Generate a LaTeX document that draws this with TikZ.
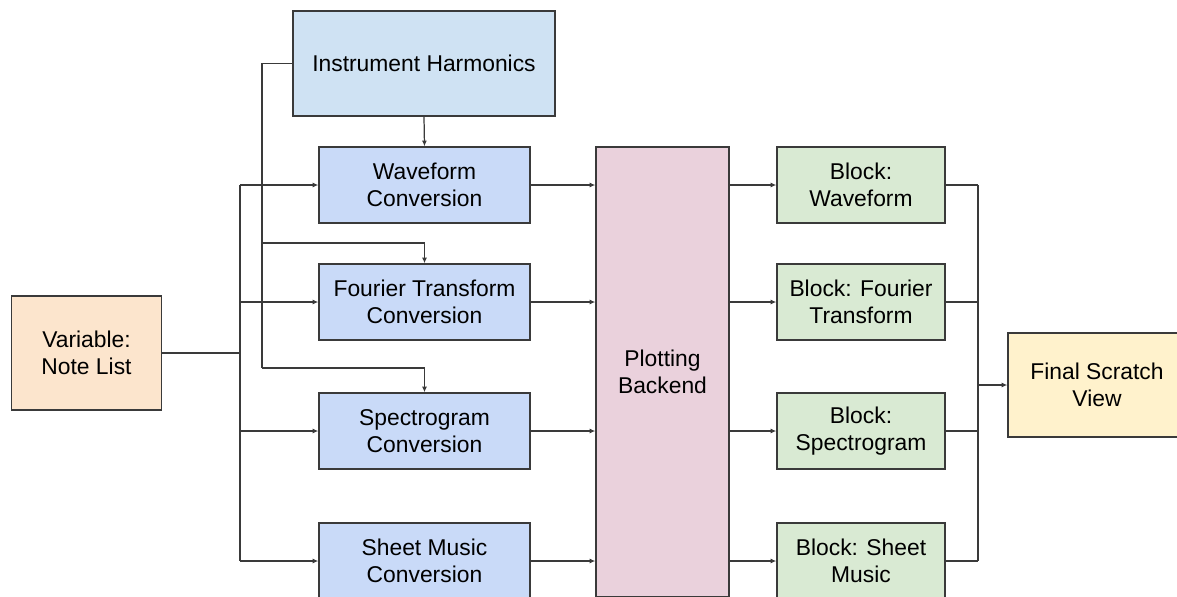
\documentclass[tikz,border=0pt]{standalone}
\usepackage{fontspec}
\setmainfont{Liberation Sans}
\usetikzlibrary{arrows.meta, positioning}

\definecolor{varfill}{HTML}{FCE5CD}
\definecolor{harmfill}{HTML}{CFE2F3}
\definecolor{convfill}{HTML}{C9DAF8}
\definecolor{backfill}{HTML}{EAD1DC}
\definecolor{blockfill}{HTML}{D9EAD3}
\definecolor{finalfill}{HTML}{FFF2CC}
\definecolor{linegray}{HTML}{3A3A3A}

\begin{document}
\begin{tikzpicture}[
  x=0.02cm, y=-0.02cm,
  box/.style={rectangle, draw=linegray, line width=0.8pt, inner sep=0pt, align=center,
    font=\fontsize{13}{15.5}\selectfont},
  conv/.style={box, fill=convfill, minimum width=4.22cm, minimum height=1.52cm},
  block/.style={box, fill=blockfill, minimum width=3.36cm, minimum height=1.52cm},
  wire/.style={draw=linegray, line width=0.7pt},
  arrow/.style={wire, -{Latex[length=3.2pt, width=2.8pt]}}
]
  \useasboundingbox (0,0) rectangle (1177,596);
  \clip (0,0) rectangle (1177,596);

  \node[box, fill=varfill, minimum width=3.0cm, minimum height=2.28cm] (var) at (86.5,353) {Variable:\\Note List};
  \node[box, fill=harmfill, minimum width=5.24cm, minimum height=2.1cm] (harm) at (424,63.5) {Instrument Harmonics};

  % Conversions
  \node[conv] (wave) at (424.5,185) {Waveform\\Conversion};
  \node[conv] (four) at (424.5,302) {Fourier Transform\\Conversion};
  \node[conv] (spec) at (424.5,431) {Spectrogram\\Conversion};
  \node[conv] (sheet) at (424.5,561) {Sheet Music\\Conversion};

  \node[box, fill=backfill, minimum width=2.66cm, minimum height=9.0cm] (back) at (662.5,372) {Plotting\\Backend};

  % Blocks
  \node[block] (bwave) at (861,185) {Block:\\Waveform};
  \node[block] (bfour) at (861,302) {Block: Fourier\\Transform};
  \node[block] (bspec) at (861,431) {Block:\\Spectrogram};
  \node[block] (bsheet) at (861,561) {Block: Sheet\\Music};

  \node[box, fill=finalfill, minimum width=3.56cm, minimum height=2.08cm] (final) at (1097,385) {Final Scratch\\View};

  \coordinate (lbus) at (240,0);
  \coordinate (hf) at (262,243);
  \coordinate (hs) at (262,368);
  \coordinate (rbus) at (978,0);

  % Note list to conversions
  \draw[wire] (var.east) -- (var.east -| lbus);
  \draw[wire] (lbus |- wave.west) -- (lbus |- sheet.west);
  \foreach \n in {wave, four, spec, sheet}
    \draw[arrow] (lbus |- \n.west) -- (\n.west);

  % Harmonics
  \draw[arrow] (harm.south) -- (wave.north);
  \draw[wire] (harm.west) -| (hs);
  \draw[arrow] (hf) -| (four.north);
  \draw[arrow] (hs) -| (spec.north);

  % Conversions to backend to blocks
  \foreach \n/\b in {wave/bwave, four/bfour, spec/bspec, sheet/bsheet} {
    \draw[arrow] (\n.east) -- (\n.east -| back.west);
    \draw[arrow] (back.east |- \b.west) -- (\b.west);
    \draw[wire] (\b.east) -- (\b.east -| rbus);
  }

  % Blocks to final view
  \draw[wire] (rbus |- bwave.east) -- (rbus |- bsheet.east);
  \draw[arrow] (rbus |- final.west) -- (final.west);
\end{tikzpicture}
\end{document}
